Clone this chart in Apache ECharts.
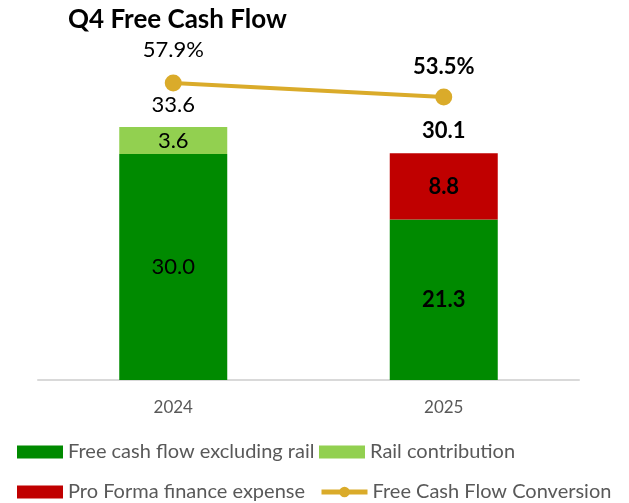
<!DOCTYPE html>
<html>
<head>
<meta charset="utf-8">
<script src="https://cdn.jsdelivr.net/npm/echarts@6/dist/echarts.min.js"></script>
<style>
  html, body { margin: 0; padding: 0; background: #fff; }
  #chart { width: 629px; height: 503px; }
</style>
</head>
<body>
<div id="chart"></div>
<script>
let years = ['2024', '2025']
let fcfExRail = [30.0, 21.3]
let railContribution = [3.6, null]
let financeExpense = [null, 8.8]
let totals = [33.6, 30.1]
let conversion = [57.9, 53.5]

let font = 'Lato'
let boldLast = function (arr) {
  return arr.map((v, i) => ({
    value: v,
    label: { fontWeight: i === arr.length - 1 ? 'bold' : 'normal' }
  }))
}

let barLabel = {
  show: true,
  position: 'inside',
  fontFamily: font,
  fontSize: 22,
  color: '#000',
  formatter: p => p.value == null ? '' : p.value.toFixed(1)
}

let option = {
  animation: false,
  title: {
    text: 'Q4 Free Cash Flow',
    left: 63,
    top: 2,
    textStyle: { fontFamily: font, fontSize: 26, fontWeight: 'bold', color: '#000' }
  },
  legend: [
    { data: ['Free cash flow excluding rail'], left: 12, top: 437, icon: 'rect' },
    { data: ['Rail contribution'], left: 314, top: 437, icon: 'rect' },
    { data: ['Pro Forma finance expense'], left: 12, top: 477, icon: 'rect' },
    { data: ['Free Cash Flow Conversion'], left: 314, top: 477 }
  ].map(l => Object.assign(l, {
    itemWidth: 46,
    itemHeight: 13,
    itemGap: 6,
    lineStyle: { width: 5 },
    textStyle: { fontFamily: font, fontSize: 20, color: '#595959' }
  })),
  grid: { left: 38, right: 50, top: 60, bottom: 123 },
  xAxis: {
    type: 'category',
    data: years,
    axisLine: { lineStyle: { color: '#D9D9D9', width: 2 } },
    axisTick: { show: false },
    axisLabel: { fontFamily: font, fontSize: 17, color: '#595959', margin: 19 }
  },
  yAxis: [
    { type: 'value', min: 0, max: 42.5, show: false },
    { type: 'value', min: -35.5, max: 65.1, show: false }
  ],
  series: [
    {
      name: 'Free cash flow excluding rail',
      type: 'bar',
      stack: 'fcf',
      barWidth: 108,
      itemStyle: { color: '#008A00' },
      label: barLabel,
      data: boldLast(fcfExRail)
    },
    {
      name: 'Rail contribution',
      type: 'bar',
      stack: 'fcf',
      itemStyle: { color: '#92D050' },
      label: barLabel,
      data: boldLast(railContribution)
    },
    {
      name: 'Pro Forma finance expense',
      type: 'bar',
      stack: 'fcf',
      itemStyle: { color: '#C00000' },
      label: barLabel,
      data: boldLast(financeExpense)
    },
    {
      name: 'total',
      type: 'bar',
      stack: 'fcf',
      itemStyle: { color: 'transparent' },
      label: {
        show: true,
        position: 'top',
        distance: 11,
        fontFamily: font,
        fontSize: 22,
        color: '#000',
        formatter: p => totals[p.dataIndex].toFixed(1)
      },
      data: boldLast(totals.map(() => 0))
    },
    {
      name: 'Free Cash Flow Conversion',
      type: 'line',
      yAxisIndex: 1,
      symbol: 'circle',
      symbolSize: 17,
      lineStyle: { color: '#DAAB2A', width: 4 },
      itemStyle: { color: '#DAAB2A' },
      label: {
        show: true,
        position: 'top',
        fontFamily: font,
        fontSize: 22,
        color: '#000',
        formatter: p => p.value.toFixed(1) + '%'
      },
      data: conversion.map((v, i) => ({
        value: v,
        label: i === conversion.length - 1
          ? { fontWeight: 'bold', distance: 10 }
          : { fontWeight: 'normal', distance: 13 }
      }))
    }
  ]
}

let chart = echarts.init(document.getElementById('chart'))
chart.setOption(option)
</script>
</body>
</html>
